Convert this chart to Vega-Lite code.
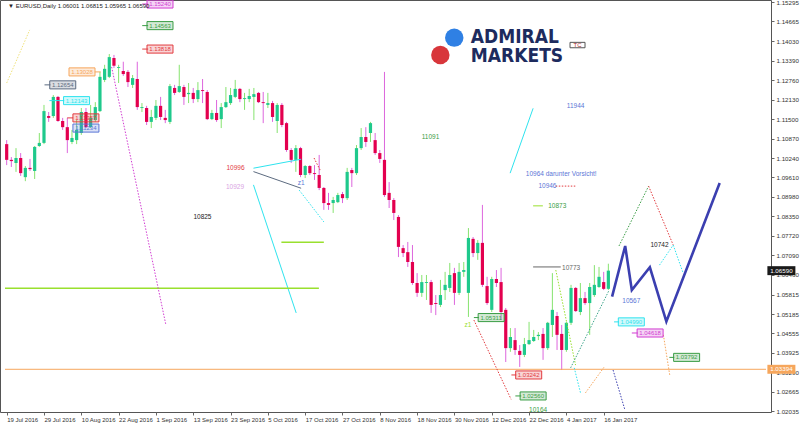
{
"$schema":"https://vega.github.io/schema/vega-lite/v6.json",
"width":771,"height":412,
"autosize":{"type":"none"},
"padding":{"left":0,"top":0,"right":29,"bottom":14},
"background":"white",
"config":{"view":{"stroke":"#555","strokeWidth":1},"font":"Liberation Sans"},
"datasets":{
"candles":[
{"x":0,"o":1.1069,"h":1.1082,"l":1.1001,"c":1.1018},{"x":1,"o":1.1018,"h":1.1027,"l":1.0995,"c":1.1014},{"x":2,"o":1.1008,"h":1.1056,"l":1.0979,"c":1.1024},{"x":3,"o":1.1024,"h":1.1040,"l":1.0966,"c":1.0975},{"x":4,"o":1.0962,"h":1.0998,"l":1.0949,"c":1.0992},{"x":5,"o":1.0992,"h":1.1021,"l":1.0982,"c":1.0988},{"x":6,"o":1.0982,"h":1.1063,"l":1.0956,"c":1.1060},{"x":7,"o":1.1063,"h":1.1105,"l":1.1060,"c":1.1073},{"x":8,"o":1.1073,"h":1.1196,"l":1.1069,"c":1.1176},{"x":9,"o":1.1160,"h":1.1173,"l":1.1141,"c":1.1154},
{"x":10,"o":1.1160,"h":1.1228,"l":1.1154,"c":1.1222},{"x":11,"o":1.1222,"h":1.1225,"l":1.1141,"c":1.1144},{"x":12,"o":1.1144,"h":1.1154,"l":1.1115,"c":1.1124},{"x":13,"o":1.1124,"h":1.1154,"l":1.1040,"c":1.1082},{"x":14,"o":1.1076,"h":1.1115,"l":1.1069,"c":1.1089},{"x":15,"o":1.1082,"h":1.1147,"l":1.1069,"c":1.1115},{"x":16,"o":1.1105,"h":1.1186,"l":1.1099,"c":1.1173},{"x":17,"o":1.1173,"h":1.1186,"l":1.1121,"c":1.1124},{"x":18,"o":1.1124,"h":1.1196,"l":1.1121,"c":1.1154},{"x":19,"o":1.1147,"h":1.1205,"l":1.1141,"c":1.1189},
{"x":20,"o":1.1176,"h":1.1303,"l":1.1173,"c":1.1287},{"x":21,"o":1.1277,"h":1.1326,"l":1.1270,"c":1.1313},{"x":22,"o":1.1287,"h":1.1361,"l":1.1283,"c":1.1351},{"x":23,"o":1.1348,"h":1.1358,"l":1.1316,"c":1.1323},{"x":24,"o":1.1316,"h":1.1326,"l":1.1267,"c":1.1319},{"x":25,"o":1.1306,"h":1.1336,"l":1.1290,"c":1.1296},{"x":26,"o":1.1303,"h":1.1309,"l":1.1254,"c":1.1270},{"x":27,"o":1.1261,"h":1.1293,"l":1.1251,"c":1.1283},{"x":28,"o":1.1280,"h":1.1336,"l":1.1180,"c":1.1189},{"x":29,"o":1.1186,"h":1.1202,"l":1.1173,"c":1.1189},
{"x":30,"o":1.1186,"h":1.1193,"l":1.1131,"c":1.1141},{"x":31,"o":1.1141,"h":1.1180,"l":1.1121,"c":1.1157},{"x":32,"o":1.1154,"h":1.1212,"l":1.1147,"c":1.1193},{"x":33,"o":1.1193,"h":1.1222,"l":1.1147,"c":1.1157},{"x":34,"o":1.1154,"h":1.1180,"l":1.1137,"c":1.1147},{"x":35,"o":1.1141,"h":1.1264,"l":1.1134,"c":1.1257},{"x":36,"o":1.1251,"h":1.1261,"l":1.1228,"c":1.1235},{"x":37,"o":1.1238,"h":1.1326,"l":1.1235,"c":1.1257},{"x":38,"o":1.1254,"h":1.1261,"l":1.1196,"c":1.1222},{"x":39,"o":1.1231,"h":1.1267,"l":1.1202,"c":1.1235},
{"x":40,"o":1.1235,"h":1.1251,"l":1.1202,"c":1.1215},{"x":41,"o":1.1215,"h":1.1270,"l":1.1205,"c":1.1244},{"x":42,"o":1.1244,"h":1.1280,"l":1.1202,"c":1.1241},{"x":43,"o":1.1238,"h":1.1244,"l":1.1147,"c":1.1150},{"x":44,"o":1.1150,"h":1.1180,"l":1.1147,"c":1.1170},{"x":45,"o":1.1170,"h":1.1212,"l":1.1141,"c":1.1147},{"x":46,"o":1.1150,"h":1.1202,"l":1.1121,"c":1.1189},{"x":47,"o":1.1189,"h":1.1254,"l":1.1186,"c":1.1205},{"x":48,"o":1.1202,"h":1.1251,"l":1.1196,"c":1.1228},{"x":49,"o":1.1222,"h":1.1277,"l":1.1218,"c":1.1248},
{"x":50,"o":1.1248,"h":1.1251,"l":1.1205,"c":1.1215},{"x":51,"o":1.1215,"h":1.1235,"l":1.1180,"c":1.1218},{"x":52,"o":1.1215,"h":1.1248,"l":1.1205,"c":1.1225},{"x":53,"o":1.1222,"h":1.1251,"l":1.1147,"c":1.1231},{"x":54,"o":1.1235,"h":1.1238,"l":1.1202,"c":1.1205},{"x":55,"o":1.1205,"h":1.1238,"l":1.1137,"c":1.1202},{"x":56,"o":1.1196,"h":1.1235,"l":1.1186,"c":1.1202},{"x":57,"o":1.1202,"h":1.1209,"l":1.1141,"c":1.1157},{"x":58,"o":1.1144,"h":1.1202,"l":1.1105,"c":1.1196},{"x":59,"o":1.1196,"h":1.1202,"l":1.1124,"c":1.1131},
{"x":60,"o":1.1137,"h":1.1141,"l":1.1044,"c":1.1050},{"x":61,"o":1.1050,"h":1.1056,"l":1.1008,"c":1.1018},{"x":62,"o":1.1018,"h":1.1066,"l":1.0979,"c":1.1056},{"x":63,"o":1.1056,"h":1.1060,"l":1.0962,"c":1.0969},{"x":64,"o":1.0969,"h":1.1001,"l":1.0959,"c":1.0998},{"x":65,"o":1.0998,"h":1.1001,"l":1.0969,"c":1.0975},{"x":66,"o":1.0975,"h":1.1001,"l":1.0953,"c":1.0972},{"x":67,"o":1.0969,"h":1.1034,"l":1.0920,"c":1.0927},{"x":68,"o":1.0927,"h":1.0930,"l":1.0856,"c":1.0878},{"x":69,"o":1.0878,"h":1.0911,"l":1.0856,"c":1.0872},
{"x":70,"o":1.0878,"h":1.0898,"l":1.0846,"c":1.0888},{"x":71,"o":1.0881,"h":1.0911,"l":1.0878,"c":1.0904},{"x":72,"o":1.0907,"h":1.0914,"l":1.0878,"c":1.0894},{"x":73,"o":1.0894,"h":1.0992,"l":1.0888,"c":1.0979},{"x":74,"o":1.0985,"h":1.0992,"l":1.0930,"c":1.0975},{"x":75,"o":1.0975,"h":1.1066,"l":1.0969,"c":1.1056},{"x":76,"o":1.1056,"h":1.1121,"l":1.1050,"c":1.1092},{"x":77,"o":1.1092,"h":1.1124,"l":1.1060,"c":1.1076},{"x":78,"o":1.1105,"h":1.1141,"l":1.1076,"c":1.1137},{"x":79,"o":1.1082,"h":1.1105,"l":1.1034,"c":1.1040},
{"x":80,"o":1.1040,"h":1.1050,"l":1.1008,"c":1.1021},{"x":81,"o":1.1018,"h":1.1303,"l":1.0898,"c":1.0904},{"x":82,"o":1.0911,"h":1.0946,"l":1.0862,"c":1.0888},{"x":83,"o":1.0888,"h":1.0894,"l":1.0823,"c":1.0846},{"x":84,"o":1.0833,"h":1.0839,"l":1.0703,"c":1.0736},{"x":85,"o":1.0732,"h":1.0742,"l":1.0703,"c":1.0716},{"x":86,"o":1.0719,"h":1.0752,"l":1.0671,"c":1.0687},{"x":87,"o":1.0687,"h":1.0742,"l":1.0613,"c":1.0619},{"x":88,"o":1.0619,"h":1.0651,"l":1.0574,"c":1.0587},{"x":89,"o":1.0587,"h":1.0645,"l":1.0574,"c":1.0622},
{"x":90,"o":1.0619,"h":1.0645,"l":1.0564,"c":1.0622},{"x":91,"o":1.0622,"h":1.0629,"l":1.0522,"c":1.0548},{"x":92,"o":1.0554,"h":1.0580,"l":1.0515,"c":1.0551},{"x":93,"o":1.0548,"h":1.0629,"l":1.0541,"c":1.0580},{"x":94,"o":1.0596,"h":1.0655,"l":1.0564,"c":1.0613},{"x":95,"o":1.0603,"h":1.0684,"l":1.0590,"c":1.0645},{"x":96,"o":1.0651,"h":1.0668,"l":1.0548,"c":1.0587},{"x":97,"o":1.0587,"h":1.0684,"l":1.0580,"c":1.0655},{"x":98,"o":1.0655,"h":1.0687,"l":1.0639,"c":1.0661},{"x":99,"o":1.0587,"h":1.0797,"l":1.0509,"c":1.0765},
{"x":100,"o":1.0762,"h":1.0768,"l":1.0703,"c":1.0716},{"x":101,"o":1.0716,"h":1.0758,"l":1.0694,"c":1.0749},{"x":102,"o":1.0749,"h":1.0872,"l":1.0606,"c":1.0613},{"x":103,"o":1.0609,"h":1.0639,"l":1.0548,"c":1.0554},{"x":104,"o":1.0532,"h":1.0639,"l":1.0525,"c":1.0632},{"x":105,"o":1.0632,"h":1.0661,"l":1.0606,"c":1.0619},{"x":106,"o":1.0622,"h":1.0668,"l":1.0499,"c":1.0525},{"x":107,"o":1.0532,"h":1.0538,"l":1.0363,"c":1.0408},{"x":108,"o":1.0408,"h":1.0473,"l":1.0396,"c":1.0444},{"x":109,"o":1.0434,"h":1.0473,"l":1.0386,"c":1.0402},
{"x":110,"o":1.0399,"h":1.0418,"l":1.0347,"c":1.0386},{"x":111,"o":1.0386,"h":1.0441,"l":1.0379,"c":1.0421},{"x":112,"o":1.0421,"h":1.0493,"l":1.0418,"c":1.0434},{"x":113,"o":1.0431,"h":1.0467,"l":1.0428,"c":1.0444},{"x":114,"o":1.0447,"h":1.0460,"l":1.0434,"c":1.0451},{"x":115,"o":1.0454,"h":1.0473,"l":1.0370,"c":1.0408},{"x":116,"o":1.0408,"h":1.0493,"l":1.0402,"c":1.0490},{"x":117,"o":1.0483,"h":1.0651,"l":1.0444,"c":1.0532},{"x":118,"o":1.0512,"h":1.0525,"l":1.0402,"c":1.0451},{"x":119,"o":1.0454,"h":1.0483,"l":1.0337,"c":1.0402},
{"x":120,"o":1.0402,"h":1.0493,"l":1.0396,"c":1.0490},{"x":121,"o":1.0490,"h":1.0613,"l":1.0483,"c":1.0603},{"x":122,"o":1.0603,"h":1.0606,"l":1.0525,"c":1.0528},{"x":123,"o":1.0525,"h":1.0619,"l":1.0515,"c":1.0570},{"x":124,"o":1.0570,"h":1.0590,"l":1.0548,"c":1.0554},{"x":125,"o":1.0554,"h":1.0619,"l":1.0451,"c":1.0606},{"x":126,"o":1.0580,"h":1.0677,"l":1.0574,"c":1.0613},{"x":127,"o":1.0606,"h":1.0671,"l":1.0603,"c":1.0639},{"x":128,"o":1.0622,"h":1.0655,"l":1.0596,"c":1.0600},{"x":129,"o":1.06001,"h":1.06815,"l":1.05965,"c":1.0659}
],
"thin":[
{"x":-0.36,"y":1.03394,"x2":162.8,"y2":1.03394,"s":"orange"},
{"x":52.91,"y":1.0991,"x2":63.13,"y2":1.1020,"s":"cyan"},
{"x":52.91,"y":1.0980,"x2":63.13,"y2":1.0926,"s":"slate"},
{"x":52.91,"y":1.0937,"x2":62.07,"y2":1.0522,"s":"cyan"},
{"x":107.94,"y":1.0975,"x2":112.87,"y2":1.1185,"s":"cyan"},
{"x":112.87,"y":1.0671,"x2":118.79,"y2":1.0671,"s":"gray"},
{"x":29.06,"y":1.1523,"x2":30.33,"y2":1.1523,"s":"magenta"},
{"x":29.06,"y":1.1453,"x2":30.33,"y2":1.1453,"s":"green"},
{"x":29.06,"y":1.1377,"x2":30.33,"y2":1.1377,"s":"red"},
{"x":18.90,"y":1.1303,"x2":20.17,"y2":1.1303,"s":"orange"},
{"x":8.11,"y":1.1261,"x2":9.38,"y2":1.1261,"s":"slate"},
{"x":9.16,"y":1.1210,"x2":12.34,"y2":1.1210,"s":"cyan"},
{"x":12.97,"y":1.1154,"x2":14.24,"y2":1.1154,"s":"red"},
{"x":100.17,"y":1.0507,"x2":101.23,"y2":1.0507,"s":"green"},
{"x":130.22,"y":1.0493,"x2":131.28,"y2":1.0493,"s":"cyan"},
{"x":134.03,"y":1.0457,"x2":135.30,"y2":1.0457,"s":"magenta"},
{"x":142.08,"y":1.0378,"x2":143.13,"y2":1.0378,"s":"green"},
{"x":108.21,"y":1.0321,"x2":109.27,"y2":1.0321,"s":"red"},
{"x":109.06,"y":1.0253,"x2":110.33,"y2":1.0253,"s":"green"},
{"x":112.87,"y":1.0869,"x2":114.96,"y2":1.0869,"s":"lime"}
],
"thick":[
{"x":58.90,"y":1.0751,"x2":68.00,"y2":1.0751,"s":"lime"},
{"x":-0.36,"y":1.0602,"x2":66.94,"y2":1.0602,"s":"lime"}
],
"dotted":[
{"x":0,"y":1.1267,"x2":4.93,"y2":1.1439,"s":"yellow"},
{"x":22.50,"y":1.1319,"x2":34.14,"y2":1.0483,"s":"magenta"},
{"x":62.71,"y":1.0920,"x2":68.00,"y2":1.0817,"s":"cyan"},
{"x":65.9,"y":1.1024,"x2":67.2,"y2":1.0985,"s":"red"},
{"x":100.17,"y":1.0499,"x2":108.15,"y2":1.0242,"s":"red"},
{"x":117.73,"y":1.0661,"x2":121.97,"y2":1.0353,"s":"lime"},
{"x":121.69,"y":1.0344,"x2":123.03,"y2":1.0263,"s":"cyan"},
{"x":124.09,"y":1.0263,"x2":128.11,"y2":1.0347,"s":"orange"},
{"x":130.01,"y":1.0337,"x2":132.55,"y2":1.0208,"s":"navy"},
{"x":120.91,"y":1.0344,"x2":129.17,"y2":1.0596,"s":"teal"},
{"x":140.80,"y":1.0451,"x2":142.16,"y2":1.0321,"s":"orange"},
{"x":131.28,"y":1.0739,"x2":137.63,"y2":1.0933,"s":"green"},
{"x":137.63,"y":1.0933,"x2":142.91,"y2":1.0742,"s":"red"},
{"x":139.96,"y":1.0677,"x2":142.91,"y2":1.0742,"s":"cyan"},
{"x":142.91,"y":1.0742,"x2":145.04,"y2":1.0651,"s":"cyan"},
{"x":117.73,"y":1.0933,"x2":121.97,"y2":1.0933,"s":"red"}
],
"forecast":[
{"x":129.80,"y":1.0575,"k":1},{"x":132.61,"y":1.0739,"k":2},{"x":134.03,"y":1.0596,"k":3},{"x":137.90,"y":1.0670,"k":4},{"x":141.44,"y":1.0494,"k":5},{"x":152.87,"y":1.0943,"k":6}
],
"boxes":[
{"x":32.87,"y":1.1523,"t":"1.15240","s":"magenta"},
{"x":32.87,"y":1.1453,"t":"1.14563","s":"green"},
{"x":32.87,"y":1.1377,"t":"1.13818","s":"red"},
{"x":16.15,"y":1.1303,"t":"1.13028","s":"orange"},
{"x":12.02,"y":1.1261,"t":"1.12654","s":"slate"},
{"x":14.98,"y":1.1210,"t":"1.12143","s":"cyan"},
{"x":16.99,"y":1.1154,"t":"1.11357","s":"red"},
{"x":16.99,"y":1.1121,"t":"1.11234","s":"sky"},
{"x":103.87,"y":1.0507,"t":"1.05311","s":"green"},
{"x":133.92,"y":1.0493,"t":"1.04990","s":"cyan"},
{"x":137.95,"y":1.0457,"t":"1.04618","s":"magenta"},
{"x":145.78,"y":1.0378,"t":"1.03792","s":"green"},
{"x":111.92,"y":1.0321,"t":"1.03242","s":"red"},
{"x":112.87,"y":1.0253,"t":"1.02560","s":"green"}
],
"texts":[
{"x":49.06,"y":1.0992,"t":"10996","s":"red"},
{"x":48.95,"y":1.0930,"t":"10929","s":"plum"},
{"x":41.97,"y":1.0833,"t":"10825","s":"black"},
{"x":63.13,"y":1.0943,"t":"z1","s":"sky"},
{"x":90.86,"y":1.1092,"t":"11091","s":"green"},
{"x":121.97,"y":1.1193,"t":"11944","s":"sky"},
{"x":118.9,"y":1.0972,"t":"10964  darunter Vorsicht!","s":"sky"},
{"x":115.94,"y":1.0933,"t":"10946","s":"sky"},
{"x":118.05,"y":1.0869,"t":"10873","s":"green"},
{"x":121.02,"y":1.0668,"t":"10773","s":"gray"},
{"x":133.92,"y":1.0561,"t":"10567","s":"sky"},
{"x":139.96,"y":1.0742,"t":"10742","s":"black"},
{"x":98.9,"y":1.0483,"t":"z1","s":"lime"},
{"x":113.93,"y":1.0208,"t":"10164","s":"green"}
],
"axisboxes":[
{"x":166.1,"y":1.0659,"t":"1.06590","s":"black"},
{"x":166.1,"y":1.03394,"t":"1.03394","s":"orange"}
],
"logo":[
{"x":95.96,"y":1.1414,"s":"logoblue"},
{"x":92.98,"y":1.1358,"s":"logored"}
],
"logotext":[
{"x":99.51,"y":1.1415,"t":"ADMIRAL","s":"logotext"},
{"x":99.51,"y":1.1354,"t":"MARKETS","s":"logotext"}
],
"tc":[{"x":122.39,"y":1.1390,"t":"TC"}],
"header":[{"x":0.3,"y":1.1517,"t":"▼ EURUSD,Daily  1.06001 1.06815 1.05965 1.06590"}]
},
"encoding":{
 "x":{"field":"x","type":"quantitative","title":null,"scale":{"domain":[-0.36,162.8],"nice":false,"zero":false},
  "axis":{"values":[0,8,16,24,32,40,48,56,64,72,80,88,96,104,112,120,128],
   "labelExpr":"['19 Jul 2016','29 Jul 2016','10 Aug 2016','22 Aug 2016','1 Sep 2016','13 Sep 2016','23 Sep 2016','5 Oct 2016','17 Oct 2016','27 Oct 2016','8 Nov 2016','18 Nov 2016','30 Nov 2016','12 Dec 2016','22 Dec 2016','4 Jan 2017','16 Jan 2017'][round(datum.value/8)]",
   "title":null,"grid":false,"domain":false,"tickSize":3,"tickColor":"#666","labelAlign":"left","labelBaseline":"top","labelPadding":1,"labelFontSize":6,"labelColor":"#333","labelFont":"Liberation Sans","labelOverlap":false,"labelFlush":false,"labelBound":false}},
 "y":{"field":"y","type":"quantitative","title":null,"scale":{"domain":[1.0201,1.1536],"nice":false,"zero":false},
  "axis":{"orient":"right","values":[1.15295,1.14665,1.1403,1.1339,1.1276,1.1213,1.115,1.1087,1.1024,1.0961,1.0898,1.0835,1.0772,1.0709,1.0646,1.05815,1.05185,1.04555,1.03925,1.0329,1.02665,1.02035],
   "format":".5f","title":null,"grid":false,"domain":false,"tickSize":3,"tickColor":"#666","labelPadding":2,"labelFontSize":6.2,"labelColor":"#333","labelFont":"Liberation Sans","labelOverlap":false,"labelFlush":false,"labelBound":false}}
},
"layer":[
{"data":{"name":"candles"},"mark":{"type":"rule","strokeWidth":1},
 "encoding":{
  "y":{"field":"l","type":"quantitative","title":null},
  "y2":{"field":"h"},
  "color":{"condition":{"test":"datum.c >= datum.o","value":"#86e36f"},"value":"#dd66dd"}}},
{"data":{"name":"candles"},"mark":{"type":"bar","width":3.2},
 "encoding":{
  "y":{"field":"o","type":"quantitative","title":null},
  "y2":{"field":"c"},
  "color":{"condition":{"test":"datum.c >= datum.o","value":"#1fc98c"},"value":"#e3004f"}}},
{"data":{"name":"thin"},"mark":{"type":"rule","strokeWidth":1},
 "encoding":{
  "x2":{"field":"x2"},"y2":{"field":"y2"},
  "color":{"field":"s","type":"nominal","legend":null,"scale":{"domain":["cyan","slate","lime","navy","red","magenta","green","orange","yellow","sky","plum","black","gray","teal","logoblue","logored","logotext"],"range":["#2ee3ee","#5c6b80","#99e02e","#3b3fb0","#e23b3f","#d23dd2","#3a9d45","#f6a65c","#f0e27a","#5a76d6","#d9a3e3","#1a1a1a","#666666","#3aa58a","#2f80e4","#d8363b","#1d2b5e"]}}}},
{"data":{"name":"thick"},"mark":{"type":"rule","strokeWidth":1.6},
 "encoding":{
  "x2":{"field":"x2"},"y2":{"field":"y2"},
  "color":{"field":"s","type":"nominal","legend":null,"scale":{"domain":["cyan","slate","lime","navy","red","magenta","green","orange","yellow","sky","plum","black","gray","teal","logoblue","logored","logotext"],"range":["#2ee3ee","#5c6b80","#99e02e","#3b3fb0","#e23b3f","#d23dd2","#3a9d45","#f6a65c","#f0e27a","#5a76d6","#d9a3e3","#1a1a1a","#666666","#3aa58a","#2f80e4","#d8363b","#1d2b5e"]}}}},
{"data":{"name":"dotted"},"mark":{"type":"rule","strokeWidth":1,"strokeDash":[1.5,1.5]},
 "encoding":{
  "x2":{"field":"x2"},"y2":{"field":"y2"},
  "color":{"field":"s","type":"nominal","legend":null,"scale":{"domain":["cyan","slate","lime","navy","red","magenta","green","orange","yellow","sky","plum","black","gray","teal","logoblue","logored","logotext"],"range":["#2ee3ee","#5c6b80","#99e02e","#3b3fb0","#e23b3f","#d23dd2","#3a9d45","#f6a65c","#f0e27a","#5a76d6","#d9a3e3","#1a1a1a","#666666","#3aa58a","#2f80e4","#d8363b","#1d2b5e"]}}}},
{"data":{"name":"forecast"},"mark":{"type":"line","strokeWidth":2.6,"color":"#3b3fb0"},
 "encoding":{"order":{"field":"k","type":"quantitative"}}},
{"data":{"name":"boxes"},"mark":{"type":"point","shape":"M-1,-0.31L1,-0.31L1,0.31L-1,0.31Z","size":676,"filled":true,"fillOpacity":0.22,"strokeWidth":1,"strokeOpacity":1},
 "encoding":{
  "fill":{"field":"s","type":"nominal","legend":null,"scale":{"domain":["cyan","slate","lime","navy","red","magenta","green","orange","yellow","sky","plum","black","gray","teal","logoblue","logored","logotext"],"range":["#2ee3ee","#5c6b80","#99e02e","#3b3fb0","#e23b3f","#d23dd2","#3a9d45","#f6a65c","#f0e27a","#5a76d6","#d9a3e3","#1a1a1a","#666666","#3aa58a","#2f80e4","#d8363b","#1d2b5e"]}},
  "stroke":{"field":"s","type":"nominal","legend":null,"scale":{"domain":["cyan","slate","lime","navy","red","magenta","green","orange","yellow","sky","plum","black","gray","teal","logoblue","logored","logotext"],"range":["#2ee3ee","#5c6b80","#99e02e","#3b3fb0","#e23b3f","#d23dd2","#3a9d45","#f6a65c","#f0e27a","#5a76d6","#d9a3e3","#1a1a1a","#666666","#3aa58a","#2f80e4","#d8363b","#1d2b5e"]}}}},
{"data":{"name":"boxes"},"mark":{"type":"text","fontSize":6,"font":"Liberation Sans","align":"center","baseline":"middle"},
 "encoding":{
  "text":{"field":"t"},
  "color":{"field":"s","type":"nominal","legend":null,"scale":{"domain":["cyan","slate","lime","navy","red","magenta","green","orange","yellow","sky","plum","black","gray","teal","logoblue","logored","logotext"],"range":["#2ee3ee","#5c6b80","#99e02e","#3b3fb0","#e23b3f","#d23dd2","#3a9d45","#f6a65c","#f0e27a","#5a76d6","#d9a3e3","#1a1a1a","#666666","#3aa58a","#2f80e4","#d8363b","#1d2b5e"]}}}},
{"data":{"name":"texts"},"mark":{"type":"text","fontSize":6.5,"font":"Liberation Sans","align":"center","baseline":"middle"},
 "encoding":{
  "text":{"field":"t"},
  "color":{"field":"s","type":"nominal","legend":null,"scale":{"domain":["cyan","slate","lime","navy","red","magenta","green","orange","yellow","sky","plum","black","gray","teal","logoblue","logored","logotext"],"range":["#2ee3ee","#5c6b80","#99e02e","#3b3fb0","#e23b3f","#d23dd2","#3a9d45","#f6a65c","#f0e27a","#5a76d6","#d9a3e3","#1a1a1a","#666666","#3aa58a","#2f80e4","#d8363b","#1d2b5e"]}}}},
{"data":{"name":"axisboxes"},"mark":{"type":"point","shape":"M-1,-0.32L1,-0.32L1,0.32L-1,0.32Z","size":784,"filled":true,"opacity":1},
 "encoding":{
  "color":{"field":"s","type":"nominal","legend":null,"scale":{"domain":["cyan","slate","lime","navy","red","magenta","green","orange","yellow","sky","plum","black","gray","teal","logoblue","logored","logotext"],"range":["#2ee3ee","#5c6b80","#99e02e","#3b3fb0","#e23b3f","#d23dd2","#3a9d45","#f6a65c","#f0e27a","#5a76d6","#d9a3e3","#1a1a1a","#666666","#3aa58a","#2f80e4","#d8363b","#1d2b5e"]}}}},
{"data":{"name":"axisboxes"},"mark":{"type":"text","fontSize":6.2,"font":"Liberation Sans","align":"center","baseline":"middle","color":"white"},
 "encoding":{"text":{"field":"t"}}},
{"data":{"name":"logo"},"mark":{"type":"circle","size":340,"opacity":1},
 "encoding":{
  "color":{"field":"s","type":"nominal","legend":null,"scale":{"domain":["cyan","slate","lime","navy","red","magenta","green","orange","yellow","sky","plum","black","gray","teal","logoblue","logored","logotext"],"range":["#2ee3ee","#5c6b80","#99e02e","#3b3fb0","#e23b3f","#d23dd2","#3a9d45","#f6a65c","#f0e27a","#5a76d6","#d9a3e3","#1a1a1a","#666666","#3aa58a","#2f80e4","#d8363b","#1d2b5e"]}}}},
{"data":{"name":"logotext"},"mark":{"type":"text","fontSize":19,"font":"'Liberation Sans Narrow', 'DejaVu Sans Condensed', Roboto","fontWeight":"bold","align":"left","baseline":"middle"},
 "encoding":{
  "text":{"field":"t"},
  "color":{"field":"s","type":"nominal","legend":null,"scale":{"domain":["cyan","slate","lime","navy","red","magenta","green","orange","yellow","sky","plum","black","gray","teal","logoblue","logored","logotext"],"range":["#2ee3ee","#5c6b80","#99e02e","#3b3fb0","#e23b3f","#d23dd2","#3a9d45","#f6a65c","#f0e27a","#5a76d6","#d9a3e3","#1a1a1a","#666666","#3aa58a","#2f80e4","#d8363b","#1d2b5e"]}}}},
{"data":{"name":"tc"},"mark":{"type":"point","shape":"M-1,-0.36L1,-0.36L1,0.36L-1,0.36Z","size":225,"filled":false,"color":"#555","strokeWidth":1,"opacity":1},
 "encoding":{}},
{"data":{"name":"tc"},"mark":{"type":"text","fontSize":6,"font":"Liberation Sans","align":"center","baseline":"middle","color":"#b03030"},
 "encoding":{"text":{"field":"t"}}},
{"data":{"name":"header"},"mark":{"type":"text","fontSize":6,"font":"Liberation Sans","align":"left","baseline":"middle","color":"#222"},
 "encoding":{"text":{"field":"t"}}}
]
}
